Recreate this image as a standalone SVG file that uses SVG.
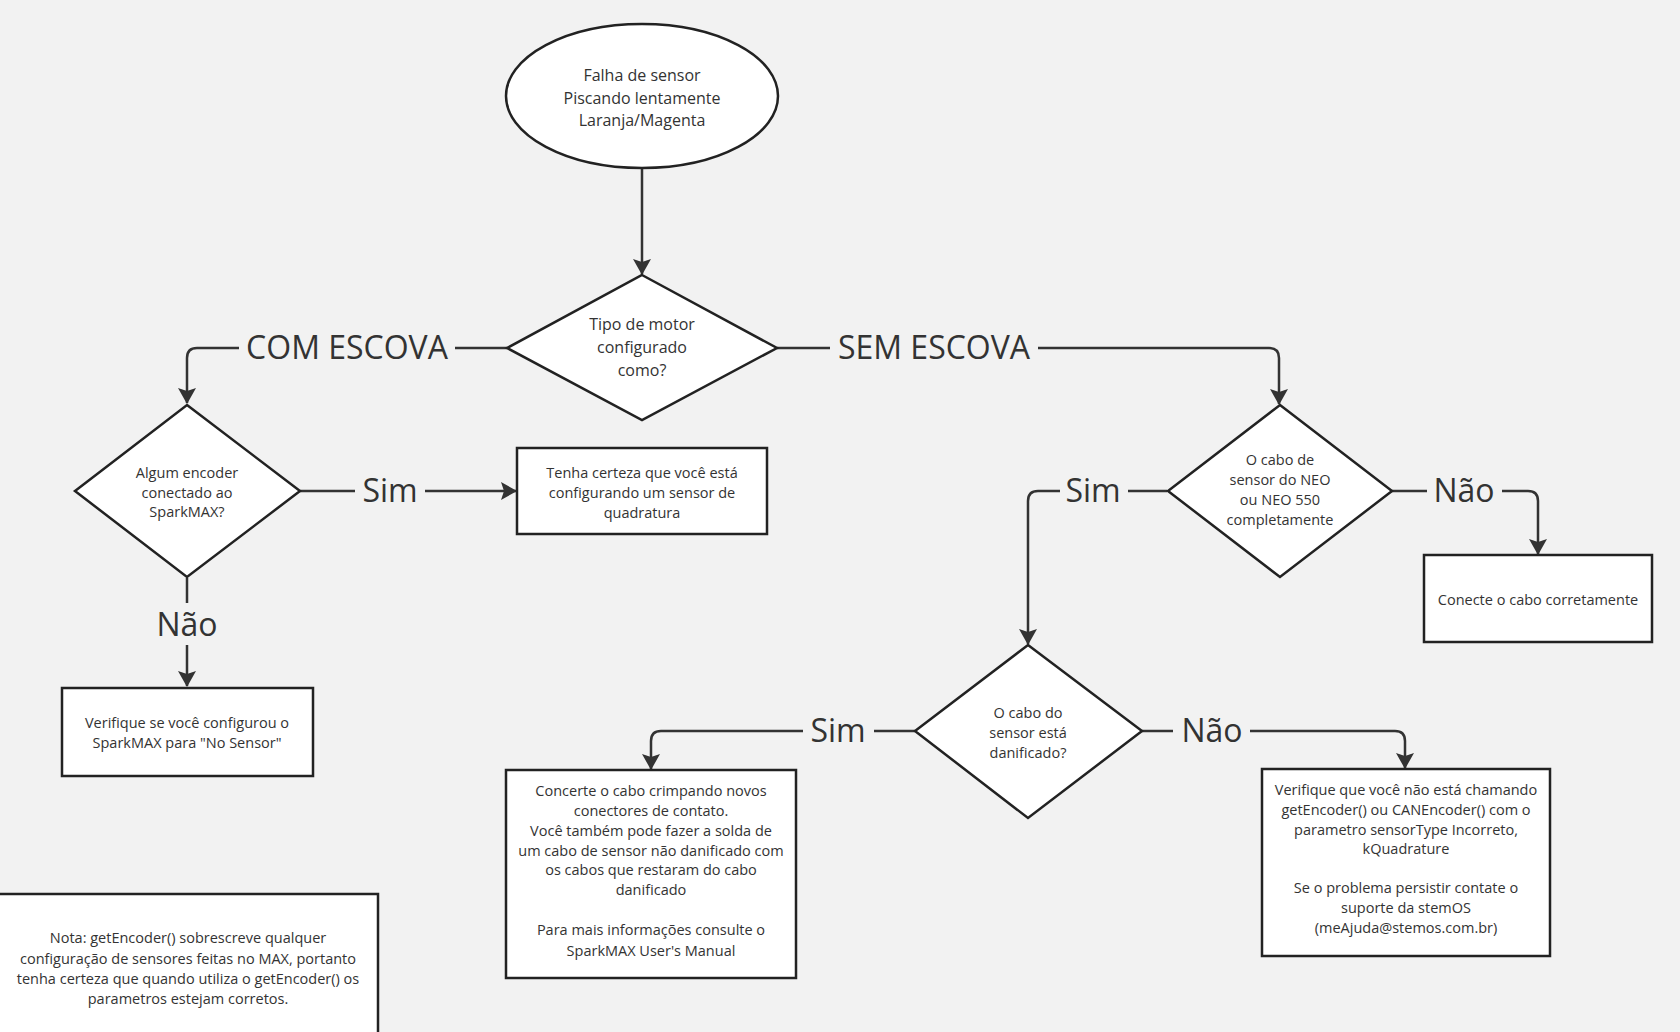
<svg xmlns="http://www.w3.org/2000/svg" width="1680" height="1032" viewBox="0 0 1680 1032">
<style>
.bg{fill:#f2f2f2}
.shape{fill:#ffffff;stroke:#222222;stroke-width:2.5}
.conn{fill:none;stroke:#333333;stroke-width:2.5}
.t{font-family:"Open Sans","Noto Sans","Liberation Sans",sans-serif;font-size:14.5px;fill:#333333;text-anchor:middle}
.te{font-size:16px}
.lbl{font-family:"Open Sans","Noto Sans","Liberation Sans",sans-serif;font-size:32px;fill:#333333;text-anchor:middle}
</style>
<defs>
<marker id="arr" viewBox="0 0 16 18" refX="15" refY="9" markerWidth="16" markerHeight="18" orient="auto" markerUnits="userSpaceOnUse">
<path d="M0,0 L16,9 L0,18 L3,9 z" fill="#333333"/>
</marker>
</defs>
<rect class="bg" x="0" y="0" width="1680" height="1032"/>

<g id="connectors">
<path class="conn" d="M642,168 V274" marker-end="url(#arr)"/>
<path class="conn" d="M507,348 H455"/>
<path class="conn" d="M239,348 H197 Q187,348 187,358 V403" marker-end="url(#arr)"/>
<path class="conn" d="M777,348 H830"/>
<path class="conn" d="M1038,348 H1269 Q1279,348 1279,358 V404" marker-end="url(#arr)"/>
<path class="conn" d="M300,491 H355"/>
<path class="conn" d="M425,491 H516" marker-end="url(#arr)"/>
<path class="conn" d="M187,578 V603"/>
<path class="conn" d="M187,645 V686" marker-end="url(#arr)"/>
<path class="conn" d="M1391,491 H1427"/>
<path class="conn" d="M1502,491 H1528 Q1538,491 1538,501 V554" marker-end="url(#arr)"/>
<path class="conn" d="M1167,491 H1128"/>
<path class="conn" d="M1060,491 H1038 Q1028,491 1028,501 V644" marker-end="url(#arr)"/>
<path class="conn" d="M915,731 H874"/>
<path class="conn" d="M803,731 H661 Q651,731 651,741 V769" marker-end="url(#arr)"/>
<path class="conn" d="M1142,731 H1173"/>
<path class="conn" d="M1250,731 H1395 Q1405,731 1405,741 V768" marker-end="url(#arr)"/>
<text class="lbl" x="347" y="359">COM ESCOVA</text>
<text class="lbl" x="934" y="359">SEM ESCOVA</text>
<text class="lbl" x="390" y="502">Sim</text>
<text class="lbl" x="187" y="636">Não</text>
<text class="lbl" x="1464" y="502">Não</text>
<text class="lbl" x="1093" y="502">Sim</text>
<text class="lbl" x="838" y="742">Sim</text>
<text class="lbl" x="1212" y="742">Não</text>
</g>

<g id="start">
<ellipse class="shape" cx="642" cy="96" rx="136" ry="72"/>
<text class="t te" x="642" y="81">Falha de sensor</text>
<text class="t te" x="642" y="103.5">Piscando lentamente</text>
<text class="t te" x="642" y="126">Laranja/Magenta</text>
</g>

<g id="d-motor">
<polygon class="shape" points="642,275 777,348 642,420 507,348"/>
<text class="t te" x="642" y="330">Tipo de motor</text>
<text class="t te" x="642" y="353">configurado</text>
<text class="t te" x="642" y="376">como?</text>
</g>

<g id="d-encoder">
<polygon class="shape" points="187,405 300,491 187,577 75,491"/>
<text class="t" x="187" y="478">Algum encoder</text>
<text class="t" x="187" y="497.5">conectado ao</text>
<text class="t" x="187" y="517">SparkMAX?</text>
</g>

<g id="b-quadratura">
<rect class="shape" x="517" y="448" width="250" height="86"/>
<text class="t" x="642" y="478">Tenha certeza que você está</text>
<text class="t" x="642" y="498">configurando um sensor de</text>
<text class="t" x="642" y="518">quadratura</text>
</g>

<g id="b-nosensor">
<rect class="shape" x="62" y="688" width="251" height="88"/>
<text class="t" x="187" y="728">Verifique se você configurou o</text>
<text class="t" x="187" y="748">SparkMAX para "No Sensor"</text>
</g>

<g id="d-neo">
<polygon class="shape" points="1280,405 1392,491 1280,577 1168,491"/>
<text class="t" x="1280" y="465">O cabo de</text>
<text class="t" x="1280" y="485">sensor do NEO</text>
<text class="t" x="1280" y="505">ou NEO 550</text>
<text class="t" x="1280" y="525">completamente</text>
</g>

<g id="b-conecte">
<rect class="shape" x="1424" y="555" width="228" height="87"/>
<text class="t" x="1538" y="605">Conecte o cabo corretamente</text>
</g>

<g id="d-danificado">
<polygon class="shape" points="1028,645 1142,731 1028,818 915,731"/>
<text class="t" x="1028" y="718">O cabo do</text>
<text class="t" x="1028" y="738">sensor está</text>
<text class="t" x="1028" y="758">danificado?</text>
</g>

<g id="b-concerte">
<rect class="shape" x="506" y="770" width="290" height="208"/>
<text class="t" x="651" y="796">Concerte o cabo crimpando novos</text>
<text class="t" x="651" y="816">conectores de contato.</text>
<text class="t" x="651" y="836">Você também pode fazer a solda de</text>
<text class="t" x="651" y="856">um cabo de sensor não danificado com</text>
<text class="t" x="651" y="875">os cabos que restaram do cabo</text>
<text class="t" x="651" y="895">danificado</text>
<text class="t" x="651" y="935">Para mais informações consulte o</text>
<text class="t" x="651" y="956">SparkMAX User's Manual</text>
</g>

<g id="b-verifique">
<rect class="shape" x="1262" y="769" width="288" height="187"/>
<text class="t" x="1406" y="795">Verifique que você não está chamando</text>
<text class="t" x="1406" y="815">getEncoder() ou CANEncoder() com o</text>
<text class="t" x="1406" y="835">parametro sensorType Incorreto,</text>
<text class="t" x="1406" y="854">kQuadrature</text>
<text class="t" x="1406" y="893">Se o problema persistir contate o</text>
<text class="t" x="1406" y="913">suporte da stemOS</text>
<text class="t" x="1406" y="933">(meAjuda@stemos.com.br)</text>
</g>

<g id="nota">
<rect class="shape" x="-5" y="894" width="383" height="150"/>
<text class="t" x="188" y="943">Nota: getEncoder() sobrescreve qualquer</text>
<text class="t" x="188" y="964">configuração de sensores feitas no MAX, portanto</text>
<text class="t" x="188" y="984">tenha certeza que quando utiliza o getEncoder() os</text>
<text class="t" x="188" y="1004">parametros estejam corretos.</text>
</g>
</svg>
